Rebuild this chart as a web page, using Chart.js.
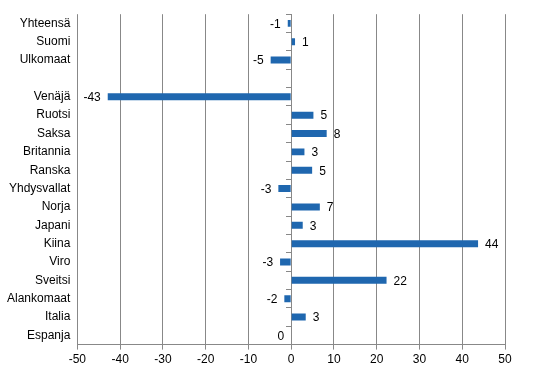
<!DOCTYPE html>
<html>
<head>
<meta charset="utf-8">
<script src="https://cdn.jsdelivr.net/npm/chart.js@4"></script>
<style>
  html, body { margin: 0; padding: 0; background: #fff; }
  #wrap { width: 544px; height: 374px; }
</style>
</head>
<body>
<div id="wrap"><canvas id="chart"></canvas></div>
<script>
const categories = ['Yhteensä', 'Suomi', 'Ulkomaat', '', 'Venäjä', 'Ruotsi', 'Saksa', 'Britannia', 'Ranska',
  'Yhdysvallat', 'Norja', 'Japani', 'Kiina', 'Viro', 'Sveitsi', 'Alankomaat', 'Italia', 'Espanja']
const values = [-0.8, 0.9, -4.8, null, -42.9, 5.2, 8.3, 3.1, 4.9, -3.0, 6.7, 2.7, 43.7, -2.6, 22.3, -1.6, 3.4, 0]
const valueLabels = ['-1', '1', '-5', '', '-43', '5', '8', '3', '5', '-3', '7', '3', '44', '-3', '22', '-2', '3', '0']
const xTicks = [-50, -40, -30, -20, -10, 0, 10, 20, 30, 40, 50]

const font = { family: 'Liberation Sans, Arial, sans-serif', size: 12 }

// labels beside the bar ends
const barLabels = {
  id: 'barLabels',
  afterDatasetsDraw(chart) {
    const ctx = chart.ctx
    const meta = chart.getDatasetMeta(0)
    ctx.save()
    ctx.font = font.size + 'px ' + font.family
    ctx.fillStyle = '#000'
    ctx.textBaseline = 'middle'
    meta.data.forEach((bar, i) => {
      if (values[i] === null) return
      const neg = values[i] < 0 || (values[i] === 0)
      ctx.textAlign = neg ? 'right' : 'left'
      const x = neg ? Math.min(bar.x, bar.base) - 7 : Math.max(bar.x, bar.base) + 7
      ctx.fillText(valueLabels[i], x, bar.y + 1)
    })
    ctx.restore()
  }
}

new Chart(document.getElementById('chart'), {
  type: 'bar',
  data: {
    labels: categories,
    datasets: [{
      data: values,
      backgroundColor: '#1F67AF',
      barPercentage: 0.76,
      categoryPercentage: 0.5
    }]
  },
  options: {
    indexAxis: 'y',
    responsive: true,
    maintainAspectRatio: false,
    animation: false,
    layout: { padding: { top: 13, right: 39, left: 0, bottom: 4 } },
    plugins: { legend: { display: false }, tooltip: { enabled: false } },
    scales: {
      x: {
        min: -50,
        max: 50,
        afterBuildTicks: axis => { axis.ticks = xTicks.map(v => ({ value: v })) },
        grid: { color: '#888', tickLength: 5, lineWidth: 1 },
        border: { color: '#888' },
        ticks: { color: '#000', font: font, padding: 3 }
      },
      y: {
        grid: { display: false, tickLength: 0 },
        border: { display: false },
        ticks: { color: '#000', font: font, padding: 7, autoSkip: false }
      },
      y2: {
        type: 'category',
        labels: categories,
        position: { x: 0 },
        offset: true,
        grid: { drawOnChartArea: false, offset: true, tickLength: 5, color: '#888' },
        border: { color: '#888' },
        ticks: { display: false }
      }
    }
  },
  plugins: [barLabels]
})
</script>
</body>
</html>
